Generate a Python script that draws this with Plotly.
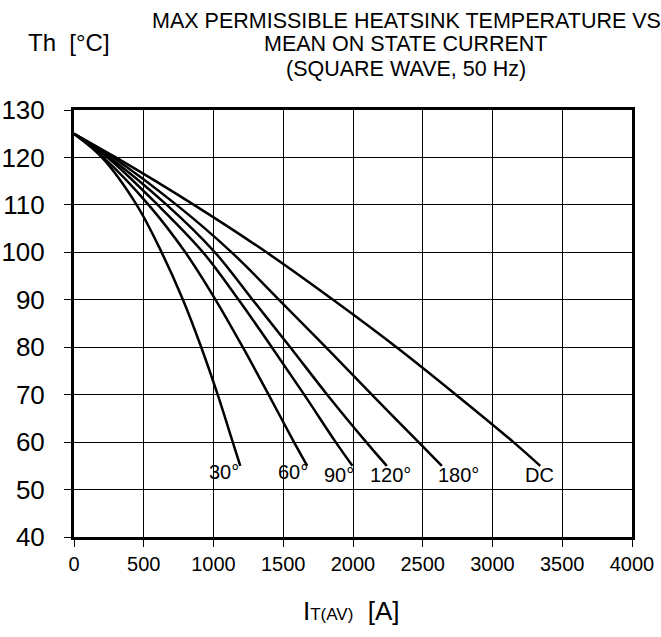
import plotly.graph_objects as go

# ---- data ----
temps = [125, 120, 110, 100, 90, 80, 70, 60, 55]
i_30 = [0, 200, 449, 628, 781, 912, 1030, 1138, 1192]
i_60 = [0, 210, 535, 798, 1015, 1210, 1395, 1577, 1672]
i_90 = [0, 240, 600, 925, 1180, 1418, 1650, 1876, 1996]
i_120 = [0, 255, 665, 1010, 1280, 1550, 1815, 2095, 2242]
i_180 = [0, 280, 735, 1130, 1470, 1805, 2135, 2470, 2637]
i_dc = [0, 300, 860, 1380, 1857, 2312, 2738, 3150, 3342]

series_names = ["30°", "60°", "90°", "120°", "180°", "DC"]
series_currents = [i_30, i_60, i_90, i_120, i_180, i_dc]
label_x = [1073, 1568, 1901, 2271, 2759, 3340]
label_y = [53.8, 53.8, 53.0, 53.0, 53.0, 53.0]

x_ticks = [0, 500, 1000, 1500, 2000, 2500, 3000, 3500, 4000]
y_ticks = [40, 50, 60, 70, 80, 90, 100, 110, 120, 130]

title_lines = ["MAX PERMISSIBLE HEATSINK TEMPERATURE VS",
               "MEAN ON STATE CURRENT",
               "(SQUARE WAVE, 50 Hz)"]

FONT = "Arial, 'Liberation Sans', sans-serif"
W, H = 661, 637
ML, MR, MT, MB = 74, 29, 110, 100
PW, PH = W - ML - MR, H - MT - MB


def px(x):
    return (x - ML) / PW


def py(y):
    return (H - MB - y) / PH


fig = go.Figure()
for name, cur in zip(series_names, series_currents):
    fig.add_trace(go.Scatter(
        x=cur, y=temps, mode="lines", name=name,
        line=dict(color="black", width=2.5, shape="spline", smoothing=1.0),
        showlegend=False, hoverinfo="skip"))

annotations = []
for name, lx, ly in zip(series_names, label_x, label_y):
    annotations.append(dict(x=lx, y=ly, xref="x", yref="y", text=name,
                            showarrow=False, font=dict(size=20, color="black", family=FONT)))

title_y = [20.5, 44.5, 68.5]
for line, ty in zip(title_lines, title_y):
    annotations.append(dict(x=px(406), y=py(ty), xref="paper", yref="paper",
                            text=line, showarrow=False, xanchor="center", yanchor="middle",
                            font=dict(size=21.5, color="black", family=FONT)))

annotations.append(dict(x=px(69), y=py(42), xref="paper", yref="paper",
                        text="Th  [°C]", showarrow=False, xanchor="center", yanchor="middle",
                        font=dict(size=24, color="black", family=FONT)))
annotations.append(dict(x=px(351), y=py(611), xref="paper", yref="paper",
                        text="I<span style='font-size:17px'>T(AV)</span>  [A]",
                        showarrow=False, xanchor="center", yanchor="middle",
                        font=dict(size=26, color="black", family=FONT)))

fig.update_layout(
    width=W, height=H,
    margin=dict(l=ML, r=MR, t=MT, b=MB, pad=0, autoexpand=False),
    paper_bgcolor="white", plot_bgcolor="white",
    annotations=annotations,
    font=dict(family=FONT, color="black"),
)
fig.update_xaxes(
    range=[0, 4000], tickvals=x_ticks, ticktext=[str(v) for v in x_ticks],
    showgrid=True, gridcolor="black", gridwidth=1,
    showline=True, linecolor="black", linewidth=3, mirror=True,
    ticks="outside", ticklen=7, tickcolor="black", tickwidth=1,
    tickfont=dict(size=20, color="black", family=FONT),
    zeroline=False, automargin=False,
)
fig.update_yaxes(
    range=[40, 130], tickvals=y_ticks, ticktext=[str(v) for v in y_ticks],
    showgrid=True, gridcolor="black", gridwidth=1,
    showline=True, linecolor="black", linewidth=3, mirror=True,
    ticks="outside", ticklen=7, tickcolor="black", tickwidth=1,
    tickfont=dict(size=26, color="black", family=FONT),
    ticklabelstandoff=14,
    zeroline=False, automargin=False,
)

fig.write_html("out.html")
